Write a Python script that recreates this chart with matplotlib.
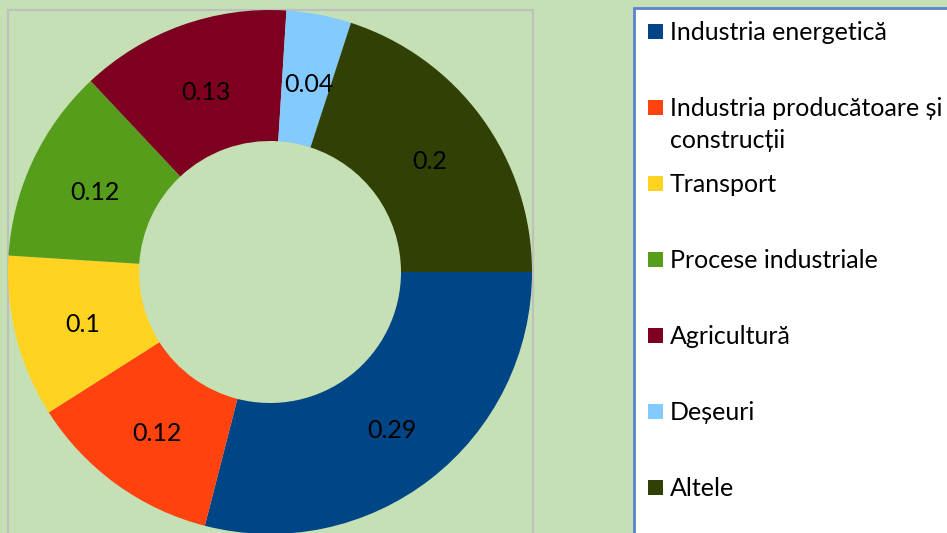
import matplotlib
matplotlib.use("Agg")
import matplotlib.pyplot as plt
from matplotlib.patches import Rectangle
import numpy as np

categories = ["Industria energetică", "Industria producătoare și\nconstrucții",
              "Transport", "Procese industriale", "Agricultură", "Deșeuri", "Altele"]
values = [0.29, 0.12, 0.10, 0.12, 0.13, 0.04, 0.20]
value_labels = ["0.29", "0.12", "0.1", "0.12", "0.13", "0.04", "0.2"]
colors = ["#004586", "#FF420E", "#FFD320", "#579D1C", "#7E0021", "#83CAFF", "#314004"]

BG = "#C5E0B4"
W, H = 947, 533
FONT = "Lato"
FS = 18

fig = plt.figure(figsize=(W / 100, H / 100), dpi=100, facecolor=BG)
ax = fig.add_axes([0, 0, 1, 1])

# work in pixel coordinates (y measured from bottom)
cx, cy, R = 270, H - 272, 262
ring = 0.5

# plot area border
ax.add_patch(Rectangle((8, -20), 525, H - 10 + 20, fill=False, ec="#BFBFBF", lw=1.5, zorder=1))

wedges, _ = ax.pie(values, colors=colors, startangle=0, counterclock=False,
                   radius=R, center=(cx, cy), frame=True,
                   wedgeprops=dict(width=R * ring, linewidth=0))
ax.set_xlim(0, W); ax.set_ylim(0, H)
ax.set_aspect("equal"); ax.axis("off")

for w, lab in zip(wedges, value_labels):
    ang = np.deg2rad((w.theta1 + w.theta2) / 2)
    r = R * 0.745
    ax.text(cx + r * np.cos(ang) + 2, cy + r * np.sin(ang) - 4, lab, ha="center", va="center",
            fontsize=FS, family=FONT, color="black")

# legend box
ax.add_patch(Rectangle((634, -20), 400, H - 8 + 20, fc="white", ec="#5B82D2", lw=2, zorder=3))
for i, (cat, c) in enumerate(zip(categories, colors)):
    yc = H - (31 + i * 76)
    ax.add_patch(Rectangle((648, yc - 7.5), 15, 15, fc=c, ec="none", zorder=4))
    for k, line in enumerate(cat.split("\n")):
        ax.text(670, yc - 1 - k * 33, line, ha="left", va="center",
                fontsize=FS, family=FONT, color="black", zorder=5)

fig.savefig("out.png", dpi=100, facecolor=BG)
